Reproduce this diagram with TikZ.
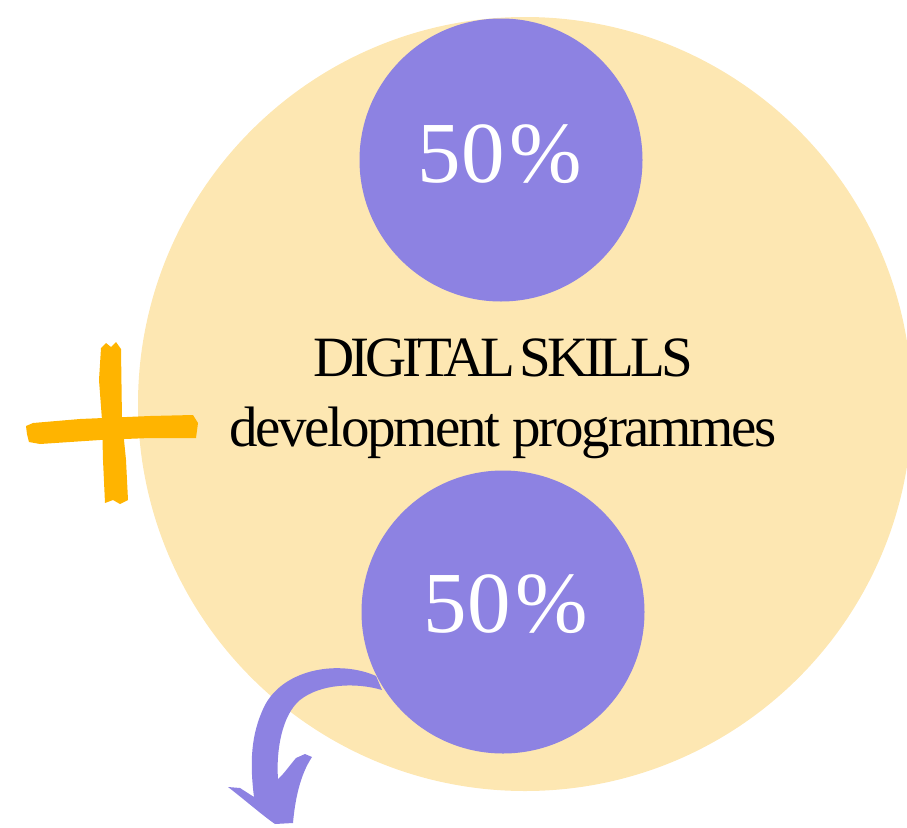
\documentclass[tikz,border=0pt]{standalone}
\usepackage{fontspec}
\setmainfont{Liberation Serif}
\definecolor{sand}{RGB}{253,231,178}
\definecolor{lilac}{RGB}{141,130,226}
\definecolor{amber}{RGB}{255,180,0}
\tikzset{
  pct/.style={circle, fill=lilac, minimum size=283pt, inner sep=0pt},
  pcttext/.style={anchor=base, inner sep=0pt, text=white, font=\fontsize{87}{87}\selectfont},
  brush/.style={fill=amber},
}
\begin{document}
\begin{tikzpicture}[x=1pt,y=-1pt]
\useasboundingbox (0,0) rectangle (907,827);
\begin{scope}
\clip (0,0) rectangle (907,827);
\fill[sand] (525,404) circle[radius=387pt];
\end{scope}
% plus sign
\fill[brush] (101,348) -- (106,343) -- (111,347) -- (116,342) -- (121,349) -- (122,420)
  -- (126,460) -- (128,500) -- (120,504) -- (113,500) -- (105,503) -- (103,460) -- (102,420) -- (99,380) -- cycle;
\fill[brush] (26,426) -- (33,423) -- (80,419) -- (150,416) -- (193,415) -- (198,423) -- (196,438)
  -- (150,438) -- (100,440) -- (40,444) -- (29,442) -- (27,434) -- cycle;
% circles
\node[pct] (top) at (501,160) {};
\node[pct] (bot) at (503,612) {};
\node[pcttext] (toplbl) at (500,182) {50\kern5pt\%};
\node[pcttext] (botlbl) at (506,632) {50\kern5pt\%};
% title
\node[anchor=base, inner sep=0pt, font=\fontsize{57}{57}\selectfont\addfontfeature{LetterSpace=-7}] (t1) at (503,376) {DIGITAL\kern4pt SKILLS};
\node[anchor=base, inner sep=0pt, font=\fontsize{57}{57}\selectfont\addfontfeature{LetterSpace=-4}] (t2) at (503,446) {development programmes};
% arrow
\fill[lilac] (376,676) .. controls (340,660) and (285,668) .. (265,705)
  .. controls (250,735) and (250,765) .. (254,797)
  -- (240,788) -- (228,787)
  .. controls (245,800) and (262,815) .. (275,824)
  -- (293,823)
  .. controls (295,800) and (300,775) .. (312,757)
  -- (305,754) -- (296,758)
  .. controls (290,765) and (283,775) .. (278,779)
  .. controls (276,750) and (282,715) .. (300,700)
  .. controls (320,684) and (355,682) .. (382,690) -- cycle;
\end{tikzpicture}
\end{document}
